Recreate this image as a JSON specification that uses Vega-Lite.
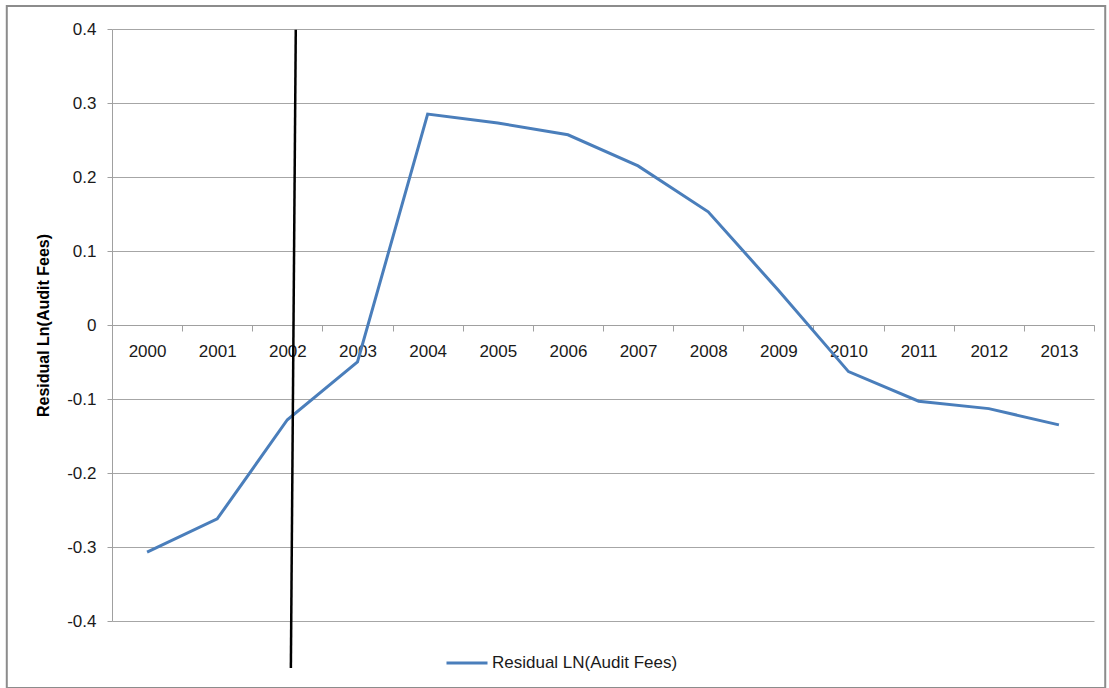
{
  "$schema": "https://vega.github.io/schema/vega-lite/v6.json",
  "autosize": {"type": "none"},
  "width": 982,
  "height": 592,
  "padding": {"left": 112, "top": 29, "right": 15, "bottom": 67},
  "background": "white",
  "config": {
    "view": {"stroke": null},
    "font": "Liberation Sans",
    "axis": {"labelFont": "Liberation Sans", "titleFont": "Liberation Sans"},
    "legend": {"labelFont": "Liberation Sans"}
  },
  "datasets": {
    "series": [
      {"year": "2000", "residual": -0.307, "series": "Residual LN(Audit Fees)"},
      {"year": "2001", "residual": -0.262, "series": "Residual LN(Audit Fees)"},
      {"year": "2002", "residual": -0.128, "series": "Residual LN(Audit Fees)"},
      {"year": "2003", "residual": -0.050, "series": "Residual LN(Audit Fees)"},
      {"year": "2004", "residual": 0.285, "series": "Residual LN(Audit Fees)"},
      {"year": "2005", "residual": 0.273, "series": "Residual LN(Audit Fees)"},
      {"year": "2006", "residual": 0.257, "series": "Residual LN(Audit Fees)"},
      {"year": "2007", "residual": 0.215, "series": "Residual LN(Audit Fees)"},
      {"year": "2008", "residual": 0.153, "series": "Residual LN(Audit Fees)"},
      {"year": "2009", "residual": 0.047, "series": "Residual LN(Audit Fees)"},
      {"year": "2010", "residual": -0.063, "series": "Residual LN(Audit Fees)"},
      {"year": "2011", "residual": -0.103, "series": "Residual LN(Audit Fees)"},
      {"year": "2012", "residual": -0.113, "series": "Residual LN(Audit Fees)"},
      {"year": "2013", "residual": -0.135, "series": "Residual LN(Audit Fees)"}
    ]
  },
  "layer": [
    {
      "data": {"name": "series"},
      "mark": {"type": "line", "strokeWidth": 3, "color": "#4a7ebb"},
      "encoding": {
        "x": {
          "field": "year", "type": "ordinal",
          "scale": {"paddingInner": 0, "paddingOuter": 0},
          "axis": {
            "title": null,
            "offset": -296,
            "domainColor": "#a0a0a0",
            "tickColor": "#a0a0a0",
            "tickBand": "extent",
            "tickSize": 6,
            "labelAngle": 0,
            "labelFontSize": 17,
            "labelColor": "#1a1a1a",
            "labelPadding": 12,
            "grid": false
          }
        },
        "y": {
          "field": "residual", "type": "quantitative",
          "scale": {"domain": [-0.4, 0.4], "nice": false, "zero": false},
          "axis": {
            "title": "Residual Ln(Audit Fees)",
            "titleFontSize": 16,
            "titleFontWeight": "bold",
            "titleColor": "#000000",
            "titlePadding": 15,
            "values": [-0.4, -0.3, -0.2, -0.1, 0, 0.1, 0.2, 0.3, 0.4],
            "labelExpr": "datum.value == 0 ? '0' : replace(format(datum.value, '.1f'), '\u2212', '-')",
            "labelFontSize": 17,
            "labelColor": "#1a1a1a",
            "labelPadding": 11,
            "tickSize": 5,
            "tickColor": "#a0a0a0",
            "domainColor": "#a0a0a0",
            "grid": true,
            "gridColor": "#a6a6a6",
            "gridWidth": 1
          }
        },
        "color": {
          "field": "series", "type": "nominal",
          "scale": {"range": ["#4a7ebb"]},
          "legend": {
            "title": null,
            "orient": "none",
            "legendX": 333,
            "legendY": 612,
            "symbolType": "stroke",
            "symbolSize": 1681,
            "symbolStrokeWidth": 3,
            "labelFontSize": 17,
            "labelColor": "#1a1a1a",
            "labelOffset": 3,
            "labelLimit": 0,
            "padding": 0
          }
        }
      }
    },
    {
      "data": {"values": [{}]},
      "layer": [
        {
          "mark": {"type": "rect", "fill": "transparent", "stroke": "#8c8c8c", "strokeWidth": 2},
          "encoding": {
            "x": {"datum": 1998.0, "type": "quantitative", "scale": {"domain": [1999.5, 2013.5], "nice": false, "zero": false}, "axis": null},
            "x2": {"datum": 2013.66},
            "y": {"datum": 0.4311, "type": "quantitative"},
            "y2": {"datum": -0.4905}
          }
        },
        {
          "mark": {"type": "rule", "color": "#000000", "strokeWidth": 2.5},
          "encoding": {
            "x": {"datum": 2002.12, "type": "quantitative", "axis": null},
            "x2": {"datum": 2002.05},
            "y": {"datum": 0.399, "type": "quantitative"},
            "y2": {"datum": -0.4635}
          }
        }
      ]
    }
  ],
  "resolve": {"scale": {"x": "independent"}}
}
